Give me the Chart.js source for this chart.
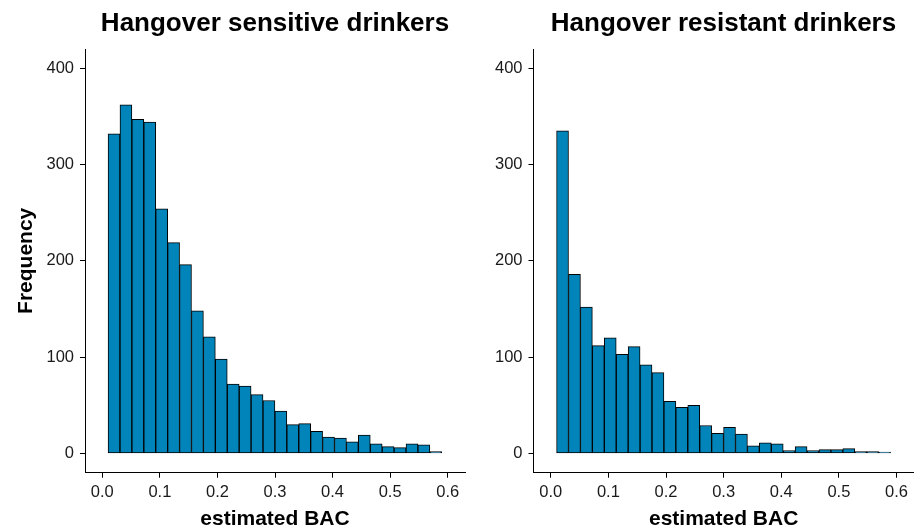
<!DOCTYPE html>
<html><head><meta charset="utf-8">
<script src="https://cdn.jsdelivr.net/npm/chart.js@4"></script>
<style>
html,body{margin:0;padding:0;background:#fff;width:915px;height:530px;overflow:hidden;position:relative}
#c1{position:absolute;left:0;top:0}
#c2{position:absolute;left:450px;top:0}
</style></head><body>
<canvas id="c1" width="550" height="530"></canvas>
<canvas id="c2" width="547" height="530"></canvas>
<script>
// histogram bins (centres of BAC bins)
const binCenters = [0.0204, 0.0411, 0.0618, 0.0825, 0.1032, 0.1239, 0.1446, 0.1653, 0.1860, 0.2067,
                    0.2274, 0.2481, 0.2688, 0.2895, 0.3102, 0.3309, 0.3516, 0.3723, 0.3930, 0.4137,
                    0.4344, 0.4551, 0.4758, 0.4965, 0.5172, 0.5379, 0.5586, 0.5793];
const sensitiveCounts = [332, 362, 347, 344, 254, 219, 196, 148, 121, 98,
                         72, 70, 61, 55, 44, 30, 31, 23, 17, 16,
                         12, 19, 10, 7, 6, 10, 9, 2];
const resistantCounts = [335, 186, 152, 112, 120, 103, 111, 92, 84, 54,
                         48, 50, 29, 21, 27, 20, 8, 11, 10, 3,
                         7, 3, 4, 4, 5, 2, 2, 1.5];
const xTickValues = [0.0, 0.1, 0.2, 0.3, 0.4, 0.5, 0.6];
const yTickValues = [0, 100, 200, 300, 400];
const panelTitles = ['Hangover sensitive drinkers', 'Hangover resistant drinkers'];
const xAxisTitle = 'estimated BAC';
const yAxisTitle = 'Frequency';

const FONT = "'Liberation Sans', Arial, sans-serif";
const FILL = '#0084BA';

function makeChart(id, title, counts, yWidth, rightSpace, showYTitle) {
  return new Chart(document.getElementById(id), {
    type: 'bar',
    data: {
      datasets: [{
        data: binCenters.map((x, i) => ({x: x, y: counts[i]})),
        backgroundColor: FILL,
        borderColor: '#000',
        borderWidth: 1,
        borderSkipped: false,
        barPercentage: 1,
        categoryPercentage: 1
      }]
    },
    options: {
      responsive: false,
      animation: false,
      devicePixelRatio: 1,
      layout: {padding: 0},
      plugins: {
        legend: {display: false},
        tooltip: {enabled: false},
        title: {
          display: true, text: title, color: '#000',
          font: {family: FONT, size: 26, weight: 'bold', lineHeight: 1.2},
          padding: {top: 8, bottom: 9.8}
        }
      },
      scales: {
        x: {
          type: 'linear', min: -0.03, max: 0.63, offset: false,
          afterBuildTicks: s => { s.ticks = xTickValues.map(v => ({value: v})); },
          afterFit: s => { s.height = 57.3; },
          grid: {display: true, drawOnChartArea: false, drawTicks: true, tickLength: 5,
                 color: '#000', lineWidth: 1, offset: false},
          border: {display: true, color: '#000', width: 1},
          ticks: {color: '#1a1a1a', font: {family: FONT, size: 16.5}, padding: 5,
                  maxRotation: 0, autoSkip: false, callback: v => Number(v).toFixed(1)},
          title: {display: true, text: xAxisTitle, color: '#000',
                  font: {family: FONT, size: 21, weight: 'bold', lineHeight: 1},
                  padding: {top: 0, bottom: 0}}
        },
        y: {
          type: 'linear', min: -20, max: 420,
          afterBuildTicks: s => { s.ticks = yTickValues.map(v => ({value: v})); },
          afterFit: s => { s.width = yWidth; },
          grid: {display: true, drawOnChartArea: false, drawTicks: true, tickLength: 5,
                 color: '#000', lineWidth: 1},
          border: {display: true, color: '#000', width: 1},
          ticks: {color: '#1a1a1a', font: {family: FONT, size: 16.5}, padding: 6,
                  autoSkip: false, callback: v => String(v)},
          title: {display: showYTitle, text: yAxisTitle, color: '#000',
                  font: {family: FONT, size: 21, weight: 'bold', lineHeight: 1},
                  padding: {top: 15.5, bottom: 0}}
        },
        // empty spacer axis on the right so the panel title is centred over the plot
        spacer: {
          type: 'linear', position: 'right', axis: 'y', min: 0, max: 1,
          afterFit: s => { s.width = rightSpace; },
          grid: {display: false}, border: {display: false},
          ticks: {display: false}
        }
      }
    }
  });
}

makeChart('c1', panelTitles[0], sensitiveCounts, 85, 85, true);
makeChart('c2', panelTitles[1], resistantCounts, 83.5, 83.2, false);
</script>
</body></html>
